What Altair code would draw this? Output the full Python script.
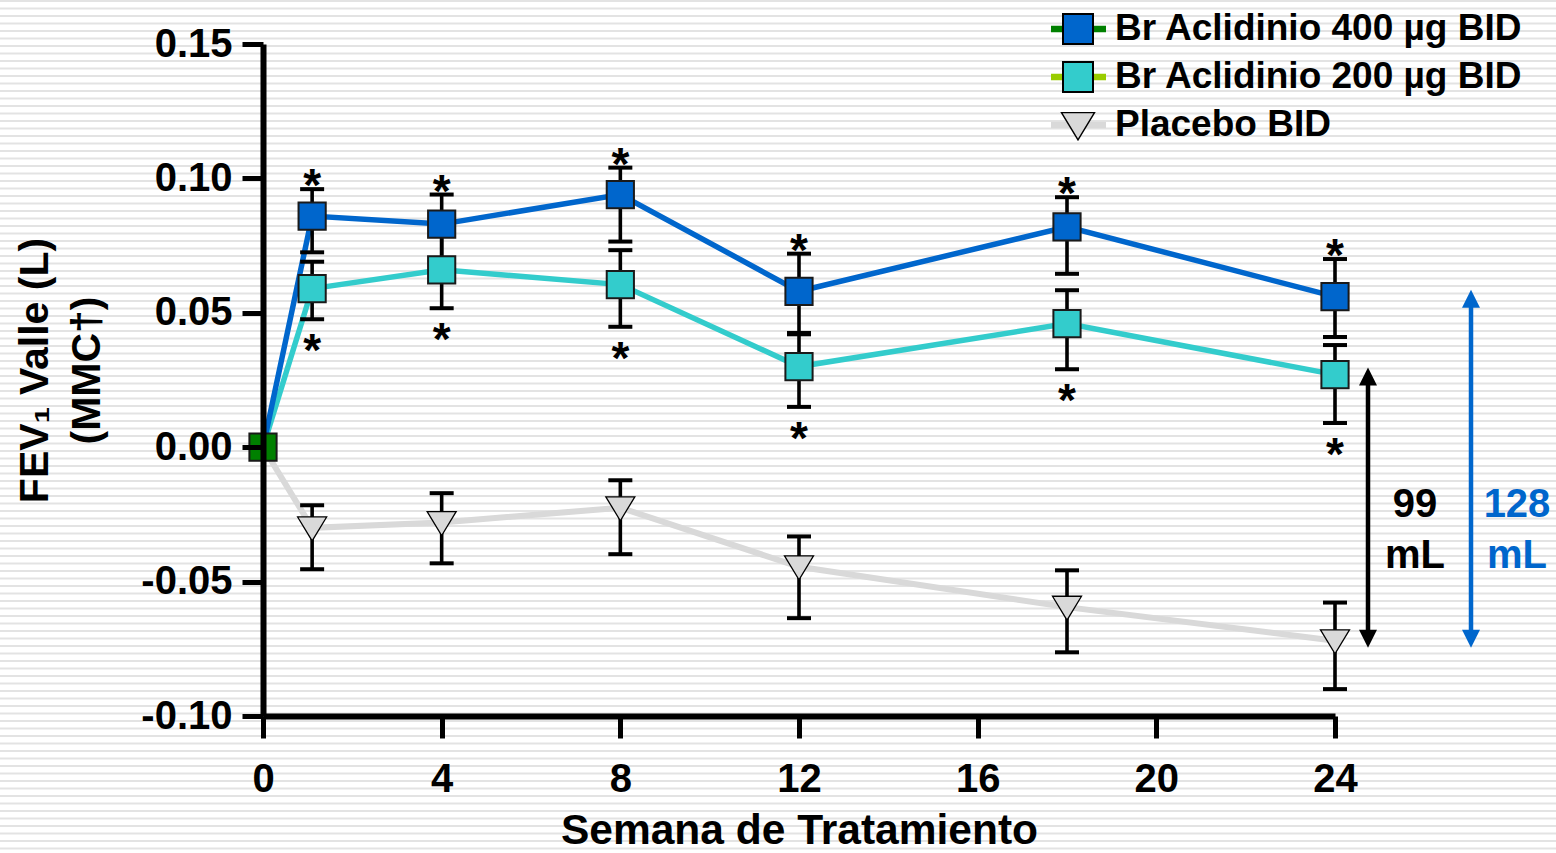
import altair as alt
import pandas as pd

# ---------------------------------------------------------------- data
weeks = [0, 1.1, 4, 8, 12, 18, 24]

series_names = ["Br Aclidinio 400 µg BID", "Br Aclidinio 200 µg BID", "Placebo BID"]

aclid400 = [0.0, 0.086, 0.083, 0.094, 0.058, 0.082, 0.056]
aclid400_hi = [None, 0.096, 0.094, 0.104, 0.072, 0.093, 0.070]
aclid400_lo = [None, 0.0725, 0.069, 0.0765, 0.042, 0.0645, 0.041]

aclid200 = [0.0, 0.059, 0.066, 0.0605, 0.030, 0.046, 0.027]
aclid200_hi = [None, 0.069, 0.080, 0.0733, 0.0425, 0.0584, 0.038]
aclid200_lo = [None, 0.0476, 0.0517, 0.0448, 0.015, 0.029, 0.009]

placebo = [0.0, -0.030, -0.028, -0.0225, -0.0445, -0.0595, -0.072]
placebo_hi = [None, -0.0216, -0.0171, -0.0123, -0.0332, -0.0458, -0.0578]
placebo_lo = [None, -0.0454, -0.0432, -0.0398, -0.0636, -0.0763, -0.0900]

x_ticks = [0, 4, 8, 12, 16, 20, 24]
y_ticks = [-0.10, -0.05, 0.00, 0.05, 0.10, 0.15]

# --------------------------------------------------------------- style
FONT = "Liberation Sans"
W, H = 1072, 672
PAD = {"left": 263, "top": 44, "right": 221, "bottom": 137}

BLUE = "#0066CC"
CYAN = "#33CCCC"
GREY = "#D9D9D9"
GREEN = "#008000"
LIME = "#99CC00"
TRI_DOWN = "M-1,-0.75L1,-0.75L0,0.9Z"
HEAD_UP = "M0,-1L1,1L-1,1Z"
HEAD_DOWN = "M0,1L1,-1L-1,-1Z"


def frame(name, vals, lo, hi):
    return pd.DataFrame({"series": name, "week": weeks, "value": vals, "lo": lo, "hi": hi})


df400 = frame(series_names[0], aclid400, aclid400_lo, aclid400_hi)
df200 = frame(series_names[1], aclid200, aclid200_lo, aclid200_hi)
dfpla = frame(series_names[2], placebo, placebo_lo, placebo_hi)

x_scale = alt.Scale(domain=[0, 24], nice=False, zero=False)
y_scale = alt.Scale(domain=[-0.10, 0.15], nice=False, zero=False)

x_axis = alt.Axis(
    values=x_ticks, format="d", title="Semana de Tratamiento",
    titleFontSize=42.5, titleX=W / 2, titleY=127, titleAlign="center",
    titleBaseline="alphabetic", labelFontSize=40, labelPadding=21,
    tickSize=22, labelFlush=False, labelOverlap=False, zindex=1,
)
y_axis = alt.Axis(
    values=y_ticks,
    labelExpr="(datum.value < 0 ? '-' : '') + format(abs(datum.value), '.2f')",
    title=["FEV₁ Valle (L)", "(MMC†)"], titleFontSize=41, titleLineHeight=52,
    titleAngle=-90, titleX=-228, titleY=326, titleAlign="center",
    titleBaseline="middle", labelFontSize=40, labelPadding=10, tickSize=21,
    labelFlush=False, labelOverlap=False, zindex=1,
)


def X(field="week"):
    return alt.X(f"{field}:Q", scale=x_scale, axis=x_axis)


def Y(field):
    return alt.Y(f"{field}:Q", scale=y_scale, axis=y_axis)


# ---------------------------------------------------- striped backdrop
stripes = (
    alt.Chart(alt.sequence(0, 116, as_="i"))
    .transform_calculate(py="datum.i * 7.5 - 43")
    .mark_rule(color="#E3E3E3", strokeWidth=2)
    .encode(x=alt.value(-PAD["left"]), x2=alt.value(W + PAD["right"]),
            y=alt.Y("py:Q", scale=None, axis=None))
)

layers = [stripes]

# ------------------------------------------------------------- lines
layers.append(alt.Chart(dfpla).mark_line(color=GREY, strokeWidth=6)
              .encode(x=X(), y=Y("value")))
layers.append(alt.Chart(df200).mark_line(color=CYAN, strokeWidth=5.5)
              .encode(x=X(), y=Y("value")))
layers.append(alt.Chart(df400).mark_line(color=BLUE, strokeWidth=5.5)
              .encode(x=X(), y=Y("value")))

# -------------------------------------------------------- error bars
for d in (df400, df200, dfpla):
    c = alt.Chart(d).transform_filter("datum.week > 0")
    layers.append(c.mark_rule(color="black", strokeWidth=3.6)
                  .encode(x=X(), y=Y("lo"), y2="hi"))
    for end in ("lo", "hi"):
        layers.append(c.mark_rule(color="black", strokeWidth=4, xOffset=-12, x2Offset=12)
                      .encode(x=X(), x2="week", y=Y(end)))

# ------------------------------------------------------------ markers
layers.append(alt.Chart(dfpla).transform_filter("datum.week > 0")
              .mark_point(shape=TRI_DOWN, size=841, filled=True, fill=GREY,
                          stroke="black", strokeWidth=1.3, opacity=1)
              .encode(x=X(), y=Y("value")))
layers.append(alt.Chart(df200).transform_filter("datum.week > 0")
              .mark_point(shape="square", size=740, filled=True, fill=CYAN,
                          stroke="#1a1a1a", strokeWidth=2, opacity=1)
              .encode(x=X(), y=Y("value")))
layers.append(alt.Chart(df400).transform_filter("datum.week > 0")
              .mark_point(shape="square", size=740, filled=True, fill=BLUE,
                          stroke="#1a1a1a", strokeWidth=2, opacity=1)
              .encode(x=X(), y=Y("value")))
layers.append(alt.Chart(df400).transform_filter("datum.week == 0")
              .mark_point(shape="square", size=740, filled=True, fill=GREEN,
                          stroke="#1a1a1a", strokeWidth=2, opacity=1)
              .encode(x=X(), y=Y("value")))

# ---------------------------------------------------------- asterisks
star = dict(text="*", font=FONT, fontWeight="bold", fontSize=46, color="black",
            align="center", baseline="middle")
layers.append(alt.Chart(df400).transform_filter("datum.week > 0")
              .mark_text(dy=-2, **star).encode(x=X(), y=Y("hi")))
layers.append(alt.Chart(df200).transform_filter("datum.week > 0")
              .mark_text(dy=33, **star).encode(x=X(), y=Y("lo")))

# -------------------------------------------- week-24 difference arrows
diff200 = round((aclid200[-1] - placebo[-1]) * 1000)
diff400 = round((aclid400[-1] - placebo[-1]) * 1000)
mid = (aclid200[-1] + placebo[-1]) / 2

arrows = [
    (aclid200[-1], "black", 33, f"{diff200}\nmL", 80),
    (aclid400[-1], BLUE, 136, f"{diff400}\nmL", 182),
]
for top, color, dx, label, tx in arrows:
    a = alt.Chart(pd.DataFrame({"week": [24], "top": [top], "bottom": [placebo[-1]], "mid": [mid]}))
    layers.append(a.mark_rule(color=color, strokeWidth=4.5, xOffset=dx)
                  .encode(x=X(), y=Y("top"), y2="bottom"))
    layers.append(a.mark_point(shape=HEAD_UP, size=324, filled=True, color=color,
                               opacity=1, strokeWidth=0, xOffset=dx, yOffset=2)
                  .encode(x=X(), y=Y("top")))
    layers.append(a.mark_point(shape=HEAD_DOWN, size=324, filled=True, color=color,
                               opacity=1, strokeWidth=0, xOffset=dx, yOffset=-2)
                  .encode(x=X(), y=Y("bottom")))
    layers.append(a.mark_text(text=label, lineBreak="\n", lineHeight=51, font=FONT,
                              fontWeight="bold", fontSize=40, color=color,
                              align="center", baseline="middle", xOffset=tx, dy=-3)
                  .encode(x=X(), y=Y("mid")))

# -------------------------------------------------------------- legend
legend_df = pd.DataFrame({
    "label": series_names,
    "row": [0, 1, 2],
    "line": [GREEN, LIME, GREY],
    "fill": [BLUE, CYAN, GREY],
    "shape": ["square", "square", TRI_DOWN],
    "sz": [900, 900, 1089],
    "sw": [2, 2, 1.4],
})
leg = alt.Chart(legend_df).transform_calculate(py="-15 + datum.row * 48")
layers.append(leg.mark_rule(strokeWidth=6.5)
              .encode(x=alt.value(788), x2=alt.value(843),
                      y=alt.Y("py:Q", scale=None, axis=None),
                      color=alt.Color("line:N", scale=None, legend=None)))
layers.append(leg.mark_point(filled=True, stroke="black", opacity=1)
              .encode(x=alt.value(815), y=alt.Y("py:Q", scale=None, axis=None),
                      shape=alt.Shape("shape:N", scale=None, legend=None),
                      fill=alt.Fill("fill:N", scale=None, legend=None),
                      size=alt.Size("sz:Q", scale=None, legend=None),
                      strokeWidth=alt.StrokeWidth("sw:Q", scale=None, legend=None)))
layers.append(leg.mark_text(font=FONT, fontWeight="bold", fontSize=37, color="black",
                            align="left", baseline="middle")
              .encode(x=alt.value(852), y=alt.Y("py:Q", scale=None, axis=None),
                      text="label:N"))

chart = (
    alt.layer(*layers)
    .properties(width=W, height=H, autosize=alt.AutoSizeParams(type="none"),
                padding=PAD, background="white")
    .configure_view(stroke=None)
    .configure_axis(domainColor="black", tickColor="black", labelColor="black",
                    titleColor="black", labelFont=FONT, titleFont=FONT,
                    labelFontWeight="bold", titleFontWeight="bold", grid=False,
                    domainWidth=6, tickWidth=5)
)

chart.save("out.html", embed_options={"renderer": "svg", "actions": False})
